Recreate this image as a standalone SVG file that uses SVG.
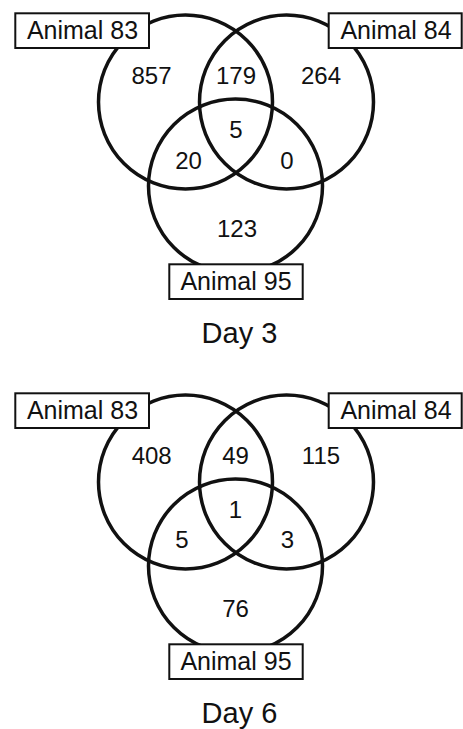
<svg xmlns="http://www.w3.org/2000/svg" width="463" height="729" viewBox="0 0 463 729">
  <style>
    .ring { fill: none; stroke: #111; stroke-width: 3.5; }
    .tag rect { fill: #fff; stroke: #111; stroke-width: 2; }
    text { font-family: "Liberation Sans", Arial, sans-serif; fill: #111; text-anchor: middle; }
    .lbl { font-size: 25px; }
    .num { font-size: 24px; }
    .day { font-size: 29px; }
  </style>
  <defs>
    <!-- one three-set Venn panel, reused for both days -->
    <g id="rings">
      <circle class="ring" cx="185.5" cy="102" r="87"/>
      <circle class="ring" cx="286.5" cy="102" r="87"/>
      <circle class="ring" cx="235.5" cy="186" r="87"/>
    </g>
  </defs>

  <!-- Day 3 panel -->
  <g id="day3">
    <use href="#rings"/>
    <g id="d3-a83" class="tag"><rect x="15.3" y="13.3" width="133.7" height="34.7"/><text class="lbl" x="82.5" y="39.3">Animal 83</text></g>
    <g id="d3-a84" class="tag"><rect x="328.7" y="13.3" width="133" height="34.7"/><text class="lbl" x="396" y="39.3">Animal 84</text></g>
    <g id="d3-a95" class="tag"><rect x="169.3" y="264.3" width="133.4" height="34.7"/><text class="lbl" x="236" y="290">Animal 95</text></g>
    <g id="d3-counts">
      <text class="num" x="151.5" y="84">857</text>
      <text class="num" x="236" y="84">179</text>
      <text class="num" x="321" y="84">264</text>
      <text class="num" x="236" y="137.5">5</text>
      <text class="num" x="188.5" y="168.5">20</text>
      <text class="num" x="287" y="168.5">0</text>
      <text class="num" x="237" y="236.5">123</text>
    </g>
    <text class="day" x="239.5" y="343.3">Day 3</text>
  </g>

  <!-- Day 6 panel -->
  <g id="day6">
    <use href="#rings" y="380"/>
    <g id="d6-a83" class="tag"><rect x="15.3" y="393.3" width="133.7" height="34.7"/><text class="lbl" x="82.5" y="419.3">Animal 83</text></g>
    <g id="d6-a84" class="tag"><rect x="328.7" y="393.3" width="133" height="34.7"/><text class="lbl" x="396" y="419.3">Animal 84</text></g>
    <g id="d6-a95" class="tag"><rect x="169.3" y="644.3" width="133.4" height="34.7"/><text class="lbl" x="236" y="670">Animal 95</text></g>
    <g id="d6-counts">
      <text class="num" x="151.7" y="464">408</text>
      <text class="num" x="235.5" y="464">49</text>
      <text class="num" x="321" y="464">115</text>
      <text class="num" x="235.5" y="517.5">1</text>
      <text class="num" x="182" y="548">5</text>
      <text class="num" x="287.5" y="548">3</text>
      <text class="num" x="235.5" y="616.5">76</text>
    </g>
    <text class="day" x="239.5" y="723.3">Day 6</text>
  </g>
</svg>
